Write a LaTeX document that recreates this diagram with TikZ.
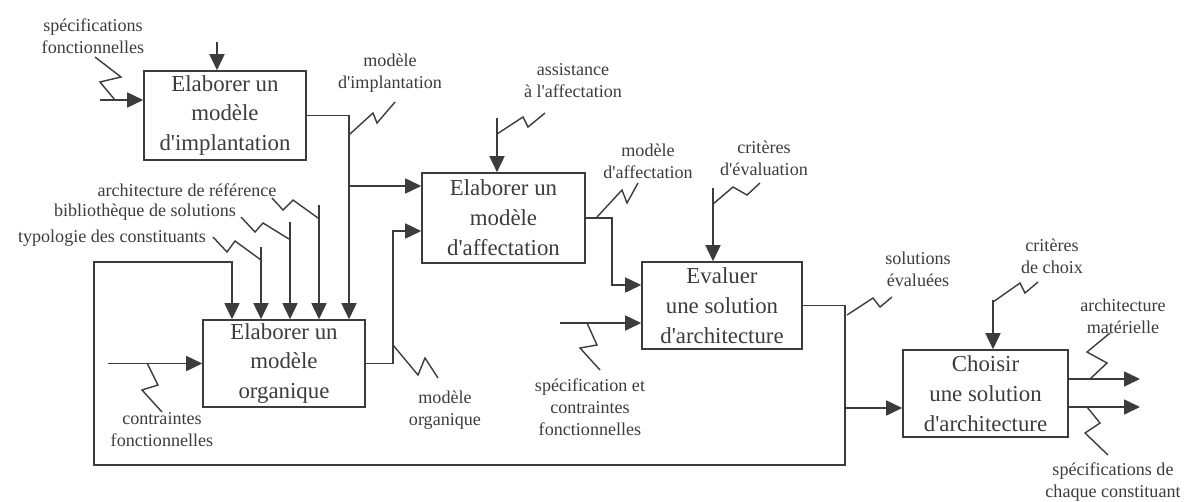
\documentclass[tikz,border=0pt]{standalone}
\usepackage{fontspec}
\setmainfont{Liberation Serif}
\usetikzlibrary{arrows.meta}
\definecolor{ink}{HTML}{3C3C3C}
\newcommand{\ap}{\textquotesingle}

\begin{document}
\begin{tikzpicture}[x=0.02cm,y=-0.02cm,
    line width=0.9pt, draw=ink, text=ink,
    activity/.style={draw=ink, line width=0.9pt, align=center, inner sep=0pt,
        font=\fontsize{13}{17}\selectfont, minimum width=#1},
    flow/.style={-{Triangle[length=0.32cm,width=0.3cm]}},
    lbl/.style={align=center, font=\fontsize{10.3}{12.5}\selectfont, inner sep=0pt},
    squig/.style={line width=0.8pt}]
    \useasboundingbox (0,0) rectangle (1186,501);

    % Activities
    \node[activity=3.24cm, minimum height=1.78cm] (implant) at (225,115.5) {Elaborer un\\modèle\\d\ap implantation};
    \node[activity=3.26cm, minimum height=1.8cm] (affect) at (503.5,218) {Elaborer un\\modèle\\d\ap affectation};
    \node[activity=3.2cm, minimum height=1.74cm] (evaluer) at (722,305.5) {Evaluer\\une solution\\d\ap architecture};
    \node[activity=3.3cm, minimum height=1.74cm] (choisir) at (985.5,393.5) {Choisir\\une solution\\d\ap architecture};
    \node[activity=3.24cm, minimum height=1.74cm] (organ) at (284,363.5) {Elaborer un\\modèle\\organique};

    % Free ends and junctions
    \coordinate (cImplant) at (217,42);
    \coordinate (iImplant) at (100,100);
    \coordinate (jImplant) at (349,186);
    \coordinate (jOrgan) at (393,231);
    \coordinate (cAffect) at (497,118);
    \coordinate (jAffect) at (612,285);
    \coordinate (cEval) at (713,188);
    \coordinate (iEval) at (560,323);
    \coordinate (jEval) at (845,408);
    \coordinate (fbLow) at (94,465);
    \coordinate (fbHigh) at (232,262);
    \coordinate (cChoix) at (993,300);
    \coordinate (oMat) at (1140,379);
    \coordinate (oSpec) at (1140,407);
    \coordinate (iOrgan) at (108,363.5);
    \coordinate (cTypo) at (261,247);
    \coordinate (cBiblio) at (290,222);
    \coordinate (cRef) at (319,205);

    % Connectors
    \draw[flow] (cImplant) -- (cImplant |- implant.north);
    \draw[flow] (iImplant) -- (iImplant -| implant.west);
    \draw[flow] (implant.east) -| (jImplant |- organ.north);
    \draw[flow] (jImplant) -- (jImplant -| affect.west);
    \draw[flow] (organ.east) -| (jOrgan) -- (jOrgan -| affect.west);
    \draw[flow] (cAffect) -- (cAffect |- affect.north);
    \draw[flow] (affect.east) -| (jAffect) -- (jAffect -| evaluer.west);
    \draw[flow] (cEval) -- (cEval |- evaluer.north);
    \draw[flow] (iEval) -- (iEval -| evaluer.west);
    \draw[flow] (evaluer.east) -| (jEval) -- (jEval -| choisir.west);
    \draw[flow] (jEval) |- (fbLow) |- (fbHigh) -- (fbHigh |- organ.north);
    \draw[flow] (cChoix) -- (cChoix |- choisir.north);
    \draw[flow] (choisir.east |- oMat) -- (oMat);
    \draw[flow] (choisir.east |- oSpec) -- (oSpec);
    \draw[flow] (iOrgan) -- (organ.west);
    \draw[flow] (cTypo) -- (cTypo |- organ.north);
    \draw[flow] (cBiblio) -- (cBiblio |- organ.north);
    \draw[flow] (cRef) -- (cRef |- organ.north);

    % Labels
    \node[lbl] (lSpecF) at (93,36) {spécifications\\fonctionnelles};
    \node[lbl] (lImplant) at (390,73) {modèle\\d\ap implantation};
    \node[lbl] (lAssist) at (573,81) {assistance\\à l\ap affectation};
    \node[lbl] (lAffect) at (648,161) {modèle\\d\ap affectation};
    \node[lbl] (lCritEval) at (764,158) {critères\\d\ap évaluation};
    \node[lbl] (lSpecC) at (590,407) {spécification et\\contraintes\\fonctionnelles};
    \node[lbl] (lSolEval) at (918,269) {solutions\\évaluées};
    \node[lbl] (lCritChoix) at (1052,256) {critères\\de choix};
    \node[lbl] (lMat) at (1123,316) {architecture\\matérielle};
    \node[lbl] (lSpecCh) at (1113,482) {spécifications de\\chaque constituant};
    \node[lbl] (lRef) at (187,190) {architecture de référence};
    \node[lbl] (lBiblio) at (145,212) {bibliothèque de solutions};
    \node[lbl] (lTypo) at (112,238) {typologie des constituants};
    \node[lbl] (lContr) at (162,430) {contraintes\\fonctionnelles};
    \node[lbl] (lOrgan) at (445,410) {modèle\\organique};

    % Squiggles
    \draw[squig] (95,57) -- (121,77) -- (100,82) -- (115,100);
    \draw[squig] (350,134) -- (373,113) -- (377,123) -- (395,102);
    \draw[squig] (497,134) -- (523,117) -- (528,127) -- (545,113);
    \draw[squig] (597,217) -- (622,190) -- (627,203) -- (638,183);
    \draw[squig] (713,204) -- (733,187) -- (747,195) -- (760,183);
    \draw[squig] (587,323) -- (597,345) -- (580,348) -- (600,370);
    \draw[squig] (847,315) -- (873,298) -- (880,307) -- (892,297);
    \draw[squig] (993,302) -- (1020,283) -- (1025,293) -- (1038,282);
    \draw[squig] (1090,379) -- (1107,363) -- (1087,352) -- (1110,333);
    \draw[squig] (1087,407) -- (1100,423) -- (1085,433) -- (1108,455);
    \draw[squig] (213,237) -- (227,252) -- (235,241) -- (261,260);
    \draw[squig] (241,217) -- (255,232) -- (263,223) -- (289,239);
    \draw[squig] (272,198) -- (283,210) -- (293,200) -- (318,218);
    \draw[squig] (147,363) -- (158,385) -- (142,390) -- (162,412);
    \draw[squig] (393,345) -- (418,375) -- (425,358) -- (438,378);
\end{tikzpicture}
\end{document}
